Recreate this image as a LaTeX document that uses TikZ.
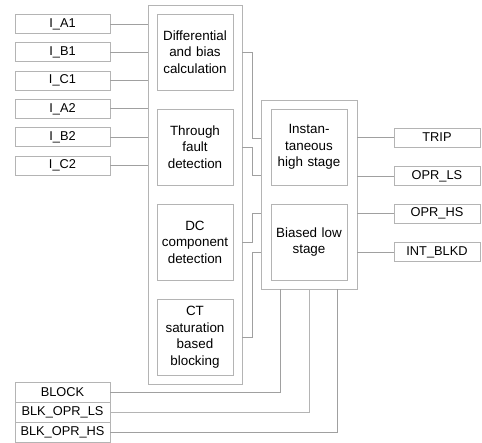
\documentclass[tikz,border=0pt]{standalone}
\usepackage{fontspec}
\setmainfont{Liberation Sans}
\usepackage{xcolor}
\definecolor{frame-gray}{HTML}{B4B4B4}
\definecolor{wire-gray}{HTML}{A0A0A0}
\tikzset{
    signal-box/.style = {draw=frame-gray, line width=0.8pt, rectangle, minimum width=95pt, minimum height=19pt, inner sep=0pt, font=\fontsize{12.8}{15}\selectfont},
    out-box/.style = {signal-box, minimum width=86pt},
    func-box/.style = {draw=frame-gray, line width=0.8pt, rectangle, minimum width=76pt, minimum height=76pt, text width=74pt, align=center, inner sep=0pt, font=\fontsize{13.4}{16.5}\selectfont},
    frame-box/.style = {draw=frame-gray, line width=0.8pt, rectangle, inner sep=0pt},
    wire/.style = {draw=wire-gray, line width=0.8pt},
}

\begin{document}
\begin{tikzpicture}[x=1pt, y=-1pt]
\useasboundingbox (0,0) rectangle (482,443);
% frames
\node[frame-box, minimum width=94pt, minimum height=379pt] (left) at (195,194.5) {};
\node[frame-box, minimum width=96pt, minimum height=189pt] (right) at (309,194.5) {};
% function blocks
\node[func-box] (f1) at (195,52) {Differential\\and bias\\calculation};
\node[func-box] (f2) at (195,147) {Through\\fault\\detection};
\node[func-box] (f3) at (195,242) {DC\\component\\detection};
\node[func-box] (f4) at (195,337) {CT\\saturation\\based\\blocking};
\node[func-box] (inst) at (309,147) {Instan-\\taneous\\high stage};
\node[func-box] (low) at (309,242) {Biased low\\stage};
% inputs
\foreach \name/\txt [count=\i from 0] in {ia1/I\_A1, ib1/I\_B1, ic1/I\_C1, ia2/I\_A2, ib2/I\_B2, ic2/I\_C2}{
    \node[signal-box] (\name) at (62.5,24+28.3*\i) {\txt};
    \draw[wire] (\name.east) -- (\name.east -| left.west);
}
% blocking inputs
\node[signal-box, minimum height=20pt] (block) at (62.5,392.5) {BLOCK};
\node[signal-box, minimum height=20pt] (blkls) at (62.5,412.5) {BLK\_OPR\_LS};
\node[signal-box, minimum height=20pt] (blkhs) at (62.5,432.5) {BLK\_OPR\_HS};
\draw[wire] (block.east) -| ([xshift=20pt]right.south west);
\draw[wire, draw=frame-gray] (blkls.east) -| (right.south);
\draw[wire] (blkhs.east) -| ([xshift=-20pt]right.south east);
% internal links
\draw[wire] (f1 -| left.east) -- ++(10,0) |- (right.west |- 0,138);
\draw[wire] (f2 -| left.east) -- ++(10,0) |- (right.west |- 0,175);
\draw[wire] (f3 -| left.east) -- ++(10,0) |- (right.west |- 0,213);
\draw[wire] (f4 -| left.east) -- ++(10,0) |- (right.west |- 0,252);
% outputs
\foreach \name/\txt/\y in {trip/TRIP/137.5, oprls/OPR\_LS/176, oprhs/OPR\_HS/213.5, intblkd/INT\_BLKD/252}{
    \node[out-box] (\name) at (437,\y) {\txt};
    \draw[wire] (\name.west) -- (\name.west -| right.east);
}
\end{tikzpicture}
\end{document}
